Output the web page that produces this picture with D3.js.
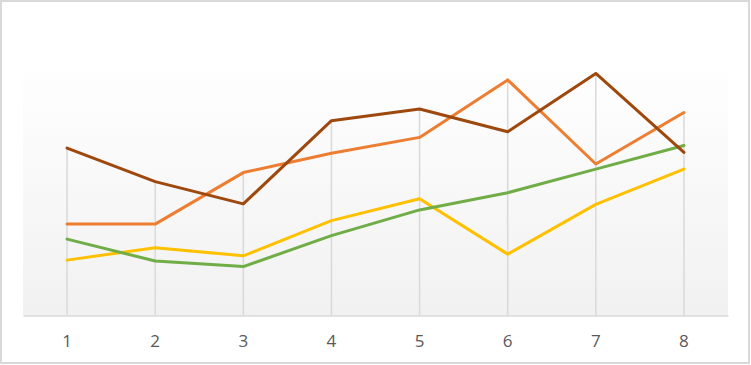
<!DOCTYPE html>
<html><head><meta charset="utf-8">
<script src="https://cdn.jsdelivr.net/npm/d3@7"></script>
<style>body{margin:0;background:#fff}svg{display:block}</style>
</head><body>
<svg id="c" width="751" height="365"></svg>
<script>
const categories = ["1","2","3","4","5","6","7","8"];
const seriesOrange = [21.3, 21.3, 33.3, 37.8, 41.5, 54.9, 35.3, 47.3];
const seriesYellow = [12.9, 15.8, 13.9, 22.1, 27.2, 14.3, 25.9, 34.1];
const seriesGreen  = [17.8, 12.7, 11.4, 18.6, 24.6, 28.6, 34.1, 39.6];
const seriesBrown  = [39.0, 31.2, 26.0, 45.4, 48.1, 42.8, 56.4, 38.0];
const yDomain = [0, 60];

const series = [
  {values: seriesOrange, color: "#ED7D31"},
  {values: seriesYellow, color: "#FFC000"},
  {values: seriesGreen,  color: "#70AD47"},
  {values: seriesBrown,  color: "#9E480E"}
];

const svg = d3.select("#c");
const plot = {left: 23, right: 728, top: 58, bottom: 315.5};

const defs = svg.append("defs");
const grad = defs.append("linearGradient").attr("id","bg").attr("x1",0).attr("y1",0).attr("x2",0).attr("y2",1);
grad.append("stop").attr("offset","0%").attr("stop-color","#ffffff");
grad.append("stop").attr("offset","100%").attr("stop-color","#f1f1f1");

svg.append("rect").attr("x",1).attr("y",1).attr("width",748).attr("height",362)
  .attr("fill","#fff").attr("stroke","#d9d9d9").attr("stroke-width",2);

svg.append("rect").attr("x",plot.left).attr("y",plot.top)
  .attr("width",plot.right-plot.left).attr("height",plot.bottom-plot.top)
  .attr("fill","url(#bg)");

const x = d3.scaleBand().domain(categories).range([plot.left, plot.right]).padding(0);
const y = d3.scaleLinear().domain(yDomain).range([plot.bottom, plot.top]);
const cx = c => x(c) + x.bandwidth()/2;

// vertical gridlines (drop lines to highest point)
svg.append("g").selectAll("line").data(categories).join("line")
  .attr("x1", d => cx(d)).attr("x2", d => cx(d))
  .attr("y1", plot.bottom)
  .attr("y2", d => d3.min(series, s => y(s.values[categories.indexOf(d)])))
  .attr("stroke","#d9d9d9").attr("stroke-width",1.5);

// x axis
const xAxis = d3.axisBottom(x).tickSize(0).tickPadding(19).tickFormat(d => d);
const gx = svg.append("g").attr("transform",`translate(0,${plot.bottom})`).call(xAxis);
gx.select(".domain").attr("stroke","#d9d9d9").attr("stroke-width",1.5);
gx.selectAll("text").attr("fill","#595959")
  .attr("font-family","'Open Sans', 'Liberation Sans', sans-serif").attr("font-size","17px");

const line = d3.line().x((d,i) => cx(categories[i])).y(d => y(d));
svg.append("g").selectAll("path").data(series).join("path")
  .attr("d", s => line(s.values))
  .attr("fill","none").attr("stroke", s => s.color)
  .attr("stroke-width",3).attr("stroke-linejoin","round").attr("stroke-linecap","round");
</script>
</body></html>
